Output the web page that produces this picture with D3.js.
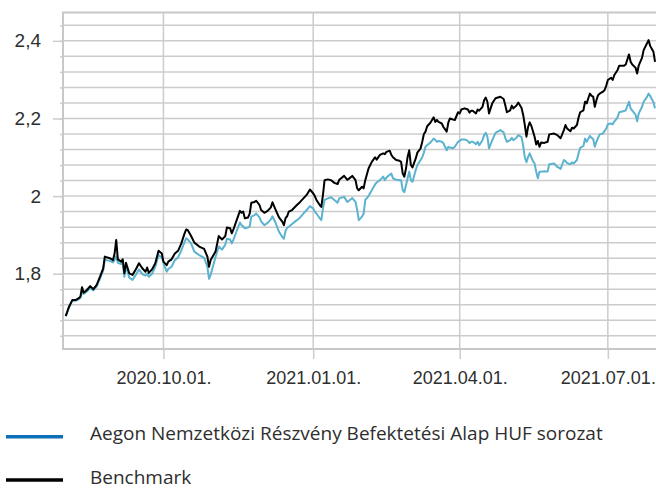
<!DOCTYPE html>
<html lang="hu">
<head>
<meta charset="UTF-8">
<title>Aegon Nemzetközi Részvény Befektetési Alap</title>
<script src="https://d3js.org/d3.v7.min.js"></script>
<style>
  body { margin: 0; background: #fff; }
  svg { display: block; font-family: "Open Sans", sans-serif; }
  .grid line, .tick line { stroke: #cccccc; stroke-width: 1.5; }
  .frame { stroke: #c8c8c8; stroke-width: 2; fill: none; }
  .tick text, .legend text { fill: #2e2e2e; font-size: 18px; }
  .y-labels .tick text { font-size: 19px; }
  .legend text { font-size: 19px; }
</style>
</head>
<body>
<svg id="chart" width="656" height="489"></svg>
<script>
// dates of the readings
const dates = [
  "2020-08-02","2020-08-04","2020-08-06","2020-08-08","2020-08-10","2020-08-11","2020-08-12","2020-08-13","2020-08-15","2020-08-17",
  "2020-08-19","2020-08-21","2020-08-23","2020-08-25","2020-08-26","2020-08-29","2020-08-31","2020-09-01","2020-09-02","2020-09-03",
  "2020-09-05","2020-09-06","2020-09-07","2020-09-08","2020-09-10","2020-09-12","2020-09-14","2020-09-16","2020-09-18","2020-09-20",
  "2020-09-21","2020-09-22","2020-09-24","2020-09-26","2020-09-28","2020-09-30","2020-10-01","2020-10-03","2020-10-04","2020-10-06",
  "2020-10-08","2020-10-10","2020-10-12","2020-10-14","2020-10-15","2020-10-16","2020-10-18","2020-10-20","2020-10-23","2020-10-26",
  "2020-10-28","2020-10-29","2020-10-30","2020-11-02","2020-11-04","2020-11-06","2020-11-08","2020-11-09","2020-11-11","2020-11-12",
  "2020-11-13","2020-11-15","2020-11-17","2020-11-18","2020-11-19","2020-11-20","2020-11-22","2020-11-23","2020-11-24","2020-11-26",
  "2020-11-27","2020-11-29","2020-11-30","2020-12-02","2020-12-04","2020-12-06","2020-12-07","2020-12-09","2020-12-11","2020-12-13",
  "2020-12-14","2020-12-15","2020-12-16","2020-12-17","2020-12-19","2020-12-22","2020-12-24","2020-12-26","2020-12-28","2020-12-30",
  "2021-01-01","2021-01-02","2021-01-03","2021-01-05","2021-01-06","2021-01-07","2021-01-08","2021-01-10","2021-01-12","2021-01-14",
  "2021-01-16","2021-01-17","2021-01-20","2021-01-22","2021-01-23","2021-01-25","2021-01-27","2021-01-28","2021-01-29","2021-01-31",
  "2021-02-01","2021-02-02","2021-02-04","2021-02-06","2021-02-08","2021-02-09","2021-02-11","2021-02-13","2021-02-14","2021-02-15",
  "2021-02-17","2021-02-18","2021-02-19","2021-02-21","2021-02-23","2021-02-24","2021-02-25","2021-02-26","2021-02-27","2021-02-28",
  "2021-03-01","2021-03-02","2021-03-03","2021-03-05","2021-03-06","2021-03-08","2021-03-09","2021-03-10","2021-03-11","2021-03-12",
  "2021-03-14","2021-03-16","2021-03-17","2021-03-18","2021-03-19","2021-03-21","2021-03-22","2021-03-24","2021-03-25","2021-03-26",
  "2021-03-28","2021-03-29","2021-03-31","2021-04-01","2021-04-02","2021-04-04","2021-04-06","2021-04-07","2021-04-08","2021-04-09",
  "2021-04-11","2021-04-12","2021-04-13","2021-04-15","2021-04-16","2021-04-17","2021-04-18","2021-04-19","2021-04-21","2021-04-23",
  "2021-04-26","2021-04-28","2021-04-29","2021-04-30","2021-05-02","2021-05-03","2021-05-04","2021-05-06","2021-05-07","2021-05-09",
  "2021-05-10","2021-05-11","2021-05-12","2021-05-13","2021-05-14","2021-05-15","2021-05-16","2021-05-17","2021-05-18","2021-05-19",
  "2021-05-20","2021-05-21","2021-05-23","2021-05-25","2021-05-26","2021-05-29","2021-05-31","2021-06-01","2021-06-02","2021-06-04",
  "2021-06-05","2021-06-06","2021-06-08","2021-06-09","2021-06-10","2021-06-12","2021-06-13","2021-06-14","2021-06-16","2021-06-17",
  "2021-06-18","2021-06-19","2021-06-20","2021-06-21","2021-06-22","2021-06-23","2021-06-24","2021-06-25","2021-06-26","2021-06-28",
  "2021-06-29","2021-06-30","2021-07-01","2021-07-03","2021-07-04","2021-07-05","2021-07-07","2021-07-08","2021-07-11","2021-07-12",
  "2021-07-14","2021-07-15","2021-07-16","2021-07-18","2021-07-19","2021-07-20","2021-07-22","2021-07-23","2021-07-25","2021-07-26",
  "2021-07-27","2021-07-29","2021-07-30"
];

// Aegon Nemzetközi Részvény Befektetési Alap HUF sorozat
const fund = [
  1.690,1.713,1.730,1.730,1.734,1.738,1.752,1.748,1.754,1.763,
  1.757,1.767,1.787,1.808,1.836,1.833,1.829,1.835,1.845,1.828,
  1.825,1.830,1.792,1.820,1.790,1.784,1.797,1.811,1.799,1.795,
  1.800,1.792,1.800,1.818,1.848,1.842,1.828,1.805,1.812,1.818,
  1.835,1.842,1.860,1.882,1.891,1.888,1.878,1.857,1.848,1.841,
  1.818,1.787,1.797,1.843,1.870,1.862,1.875,1.890,1.888,1.878,
  1.888,1.910,1.932,1.925,1.922,1.917,1.919,1.922,1.947,1.951,
  1.955,1.945,1.935,1.925,1.931,1.940,1.948,1.930,1.908,1.895,
  1.890,1.910,1.918,1.921,1.928,1.938,1.945,1.955,1.964,1.974,
  1.968,1.960,1.955,1.943,1.938,1.968,1.990,1.994,1.997,1.990,
  1.983,1.994,1.998,1.985,1.988,1.995,1.985,1.964,1.938,1.947,
  1.955,1.990,2.000,2.015,2.030,2.035,2.041,2.050,2.041,2.048,
  2.055,2.058,2.046,2.042,2.041,2.041,2.015,2.010,2.028,2.046,
  2.063,2.041,2.037,2.067,2.080,2.093,2.100,2.112,2.127,2.131,
  2.138,2.148,2.145,2.140,2.142,2.140,2.136,2.118,2.127,2.125,
  2.123,2.127,2.140,2.142,2.146,2.146,2.142,2.136,2.140,2.140,
  2.134,2.140,2.131,2.144,2.157,2.163,2.153,2.123,2.144,2.163,
  2.170,2.164,2.150,2.140,2.144,2.150,2.144,2.151,2.157,2.152,
  2.130,2.100,2.087,2.101,2.110,2.100,2.090,2.084,2.063,2.046,
  2.063,2.063,2.064,2.063,2.082,2.084,2.075,2.073,2.070,2.093,
  2.090,2.085,2.082,2.087,2.084,2.093,2.110,2.124,2.129,2.148,
  2.140,2.148,2.155,2.150,2.147,2.127,2.140,2.150,2.159,2.161,
  2.168,2.174,2.185,2.187,2.185,2.192,2.203,2.216,2.219,2.221,
  2.243,2.226,2.220,2.210,2.193,2.213,2.230,2.243,2.255,2.264,
  2.258,2.242,2.226
];

// Benchmark
const benchmark = [
  1.691,1.715,1.732,1.732,1.737,1.741,1.765,1.751,1.758,1.768,
  1.760,1.771,1.792,1.814,1.844,1.840,1.835,1.852,1.887,1.837,
  1.831,1.837,1.801,1.828,1.801,1.797,1.811,1.827,1.814,1.805,
  1.816,1.802,1.811,1.827,1.859,1.852,1.831,1.822,1.831,1.837,
  1.852,1.859,1.878,1.904,1.914,1.912,1.897,1.880,1.870,1.864,
  1.844,1.818,1.835,1.857,1.897,1.888,1.897,1.919,1.917,1.904,
  1.914,1.938,1.962,1.957,1.960,1.943,1.945,1.955,1.983,1.985,
  1.988,1.977,1.964,1.957,1.962,1.971,1.984,1.964,1.945,1.934,
  1.925,1.943,1.948,1.960,1.964,1.977,1.985,1.994,2.003,2.017,
  2.007,2.000,1.990,1.977,1.972,2.003,2.041,2.043,2.041,2.034,
  2.031,2.042,2.052,2.042,2.045,2.052,2.041,2.020,2.015,2.024,
  2.020,2.041,2.071,2.088,2.100,2.094,2.106,2.110,2.108,2.114,
  2.117,2.106,2.100,2.093,2.091,2.088,2.058,2.050,2.071,2.101,
  2.118,2.080,2.074,2.097,2.112,2.123,2.140,2.160,2.166,2.180,
  2.189,2.203,2.191,2.196,2.191,2.187,2.178,2.166,2.189,2.200,
  2.197,2.196,2.216,2.213,2.223,2.226,2.223,2.215,2.220,2.220,
  2.213,2.223,2.220,2.230,2.247,2.254,2.243,2.213,2.239,2.252,
  2.256,2.250,2.234,2.216,2.221,2.233,2.226,2.234,2.241,2.227,
  2.209,2.183,2.153,2.178,2.190,2.181,2.167,2.153,2.133,2.142,
  2.127,2.138,2.137,2.140,2.159,2.161,2.157,2.153,2.149,2.170,
  2.183,2.174,2.167,2.176,2.174,2.183,2.202,2.216,2.221,2.243,
  2.239,2.252,2.264,2.258,2.256,2.230,2.247,2.260,2.264,2.269,
  2.273,2.284,2.299,2.305,2.299,2.312,2.325,2.336,2.336,2.339,
  2.365,2.346,2.339,2.331,2.316,2.337,2.356,2.376,2.393,2.402,
  2.387,2.372,2.346
];

const seriesNames = ["Aegon Nemzetközi Részvény Befektetési Alap HUF sorozat", "Benchmark"];
const lineColors = ["#5cb3cf", "#000000"];
const legendColors = ["#0b70b8", "#000000"];
const yLabelTicks = [1.8, 2.0, 2.2, 2.4];
const xTickDates = ["2020-10-01", "2021-01-01", "2021-04-01", "2021-07-01"];

const parse = d3.timeParse("%Y-%m-%d");
const huFormat = d3.formatLocale({ decimal: ",", thousands: " ", grouping: [3], currency: ["", " Ft"] });

// plot frame
const plotLeft = 63, plotRight = 656, plotTop = 12.5, plotBottom = 349;

const svg = d3.select("#chart");

const x = d3.scaleTime()
  .domain([parse("2020-07-31"), parse("2021-08-01")])
  .range([62.5, 658.3]);

const y = d3.scaleLinear()
  .domain([1.606, 2.473])
  .range([plotBottom, plotTop]);

// minor gridlines every 0.04
const gridValues = d3.range(41, 62).map(i => +(i * 0.04).toFixed(2));

svg.append("g").attr("class", "grid")
  .selectAll("line")
  .data(gridValues)
  .join("line")
  .attr("x1", plotLeft).attr("x2", plotRight)
  .attr("y1", d => y(d)).attr("y2", d => y(d));

svg.append("g").attr("class", "grid")
  .selectAll("line")
  .data(xTickDates.map(parse))
  .join("line")
  .attr("x1", d => x(d)).attr("x2", d => x(d))
  .attr("y1", plotTop).attr("y2", plotBottom);

// small ticks on the left for every gridline
svg.append("g")
  .attr("transform", `translate(${plotLeft},0)`)
  .call(d3.axisLeft(y).tickValues(gridValues).tickSize(3).tickFormat(""))
  .call(g => g.select(".domain").remove());

// labelled ticks
svg.append("g")
  .attr("class", "y-labels")
  .attr("transform", `translate(${plotLeft},0)`)
  .call(d3.axisLeft(y).tickValues(yLabelTicks).tickSize(10).tickPadding(12)
    .tickFormat(huFormat.format("~g")))
  .call(g => g.select(".domain").remove())
  .call(g => g.selectAll("text").attr("font-family", null).attr("font-size", null));

svg.append("g")
  .attr("transform", `translate(0,${plotBottom})`)
  .call(d3.axisBottom(x).tickValues(xTickDates.map(parse)).tickSize(10).tickPadding(12)
    .tickFormat(d3.timeFormat("%Y.%m.%d.")))
  .call(g => g.select(".domain").remove())
  .call(g => g.selectAll("text").attr("font-family", null).attr("font-size", null));

// frame
svg.append("path")
  .attr("class", "frame")
  .attr("d", `M${plotRight},${plotTop}H${plotLeft}V${plotBottom}H${plotRight}`);

// lines
svg.append("clipPath").attr("id", "plot-clip")
  .append("rect").attr("x", plotLeft).attr("y", plotTop)
  .attr("width", plotRight - plotLeft).attr("height", plotBottom - plotTop);

const rows = dates.map((d, i) => ({ date: parse(d), fund: fund[i], benchmark: benchmark[i] }));

const series = [
  { name: seriesNames[0], key: "fund", color: lineColors[0] },
  { name: seriesNames[1], key: "benchmark", color: lineColors[1] }
];

const plot = svg.append("g").attr("clip-path", "url(#plot-clip)");

series.forEach(s => {
  plot.append("path")
    .datum(rows)
    .attr("fill", "none")
    .attr("stroke", s.color)
    .attr("stroke-width", 2)
    .attr("stroke-linejoin", "round")
    .attr("d", d3.line().x(d => x(d.date)).y(d => y(d[s.key])));
});

// legend
const legend = svg.append("g").attr("class", "legend");
const legendY = d3.scalePoint().domain(seriesNames).range([436.7, 480]);

legend.selectAll("line")
  .data(seriesNames)
  .join("line")
  .attr("x1", 6).attr("x2", 63)
  .attr("y1", d => legendY(d)).attr("y2", d => legendY(d))
  .attr("stroke", (d, i) => legendColors[i])
  .attr("stroke-width", 3.5);

legend.selectAll("text")
  .data(seriesNames)
  .join("text")
  .attr("x", 90)
  .attr("y", d => legendY(d) + 3.5)
  .text(d => d);
</script>
</body>
</html>
